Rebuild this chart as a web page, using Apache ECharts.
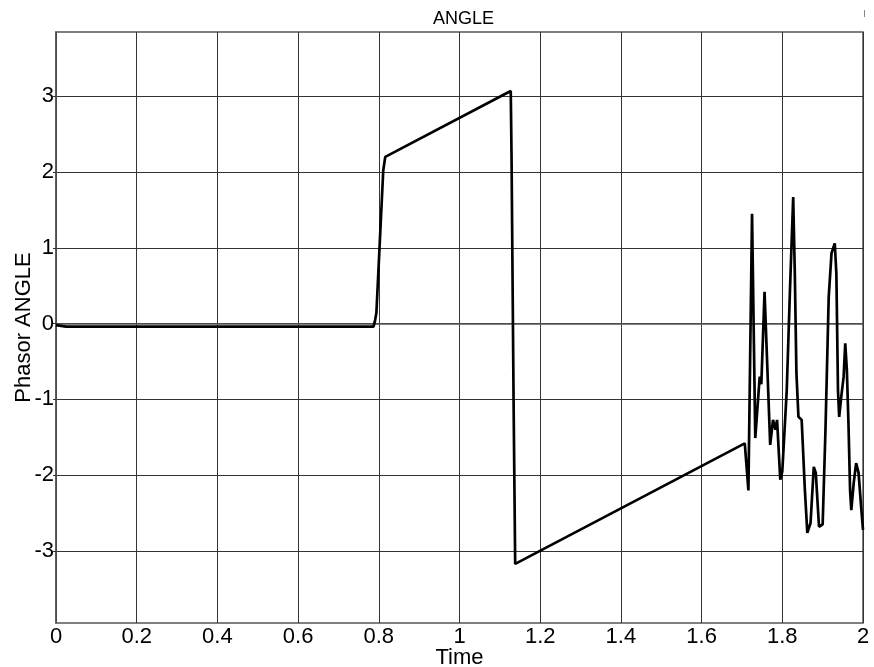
<!DOCTYPE html>
<html>
<head>
<meta charset="utf-8">
<script src="https://cdn.jsdelivr.net/npm/echarts@6/dist/echarts.min.js"></script>
<style>html,body{margin:0;padding:0;background:#fff}#c{width:874px;height:667px}</style>
</head>
<body>
<div id="c"></div>
<script>
const timeValues = [0, 0.025, 0.787, 0.791, 0.794, 0.811, 0.816, 1.127, 1.129, 1.134, 1.138,
  1.707, 1.716, 1.725, 1.733, 1.744, 1.748, 1.756, 1.770, 1.777, 1.783, 1.787, 1.795,
  1.800, 1.811, 1.819, 1.827, 1.831, 1.835, 1.840, 1.848, 1.856, 1.862, 1.870, 1.878,
  1.883, 1.891, 1.900, 1.907, 1.915, 1.922, 1.930, 1.934, 1.938, 1.941, 1.946, 1.952,
  1.956, 1.960, 1.964, 1.968, 1.971, 1.977, 1.983, 1.989, 1.996, 2.0];
const angleValues = [-0.02, -0.04, -0.04, 0.05, 0.14, 2.02, 2.2, 3.07, 2.2, -1.0, -3.17,
  -1.58, -2.2, 1.45, -1.51, -0.70, -0.80, 0.42, -1.6, -1.27, -1.4, -1.27, -2.06,
  -1.95, -0.88, 0.44, 1.67, 0.67, -0.65, -1.23, -1.27, -2.2, -2.76, -2.63, -1.89,
  -1.97, -2.68, -2.65, -1.4, 0.35, 0.93, 1.06, 0.66, -0.88, -1.23, -0.97, -0.7,
  -0.26, -0.61, -1.32, -2.2, -2.46, -2.1, -1.84, -1.97, -2.46, -2.72];
const xTicks = [0, 0.2, 0.4, 0.6, 0.8, 1, 1.2, 1.4, 1.6, 1.8, 2];
const yTicks = [-3, -2, -1, 0, 1, 2, 3];

const chart = echarts.init(document.getElementById('c'), null, {renderer: 'canvas'});
const font = 'Liberation Sans, Arial, sans-serif';
chart.setOption({
  animation: false,
  backgroundColor: '#fff',
  title: {text: 'ANGLE', left: 428, top: 5,
    textStyle: {fontFamily: font, fontSize: 18, fontWeight: 'normal', color: '#000'}},
  graphic: [{type: 'rect', shape: {x: 864, y: 10, width: 1, height: 7}, style: {fill: '#888'}}],
  grid: {left: 56, right: 11, top: 32, bottom: 44, show: true, borderColor: '#555', borderWidth: 1.5,
    backgroundColor: '#fff', outerBoundsMode: 'none', containLabel: false},
  xAxis: {type: 'value', min: 0, max: 2, interval: 0.2,
    name: 'Time', nameLocation: 'middle', nameGap: 24, nameMoveOverlap: false,
    nameTextStyle: {fontFamily: font, fontSize: 22, color: '#000'},
    axisLine: {show: true, lineStyle: {color: '#555', width: 1.5}},
    axisTick: {show: false},
    axisLabel: {fontFamily: font, fontSize: 22, color: '#000', margin: 3,
      customValues: xTicks, formatter: v => String(+v.toFixed(1))},
    splitLine: {show: true, lineStyle: {color: '#333', width: 1}}
  },
  yAxis: {type: 'value', min: -3.95, max: 3.848,
    name: 'Phasor ANGLE', nameLocation: 'middle', nameGap: 21, nameMoveOverlap: false,
    nameTextStyle: {fontFamily: font, fontSize: 22, color: '#000'},
    axisLine: {show: true, lineStyle: {color: '#555', width: 1.5}},
    axisTick: {show: true, inside: false, length: 3, customValues: yTicks, lineStyle: {color: '#333'}},
    axisLabel: {fontFamily: font, fontSize: 22, color: '#000', margin: 2, customValues: yTicks},
    splitLine: {show: true, lineStyle: {color: '#333', width: 1}}
  },
  series: [{type: 'line', data: timeValues.map((t, i) => [t, angleValues[i]]),
    showSymbol: false, lineStyle: {color: '#000', width: 2.7}, z: 5}]
});
</script>
</body>
</html>
